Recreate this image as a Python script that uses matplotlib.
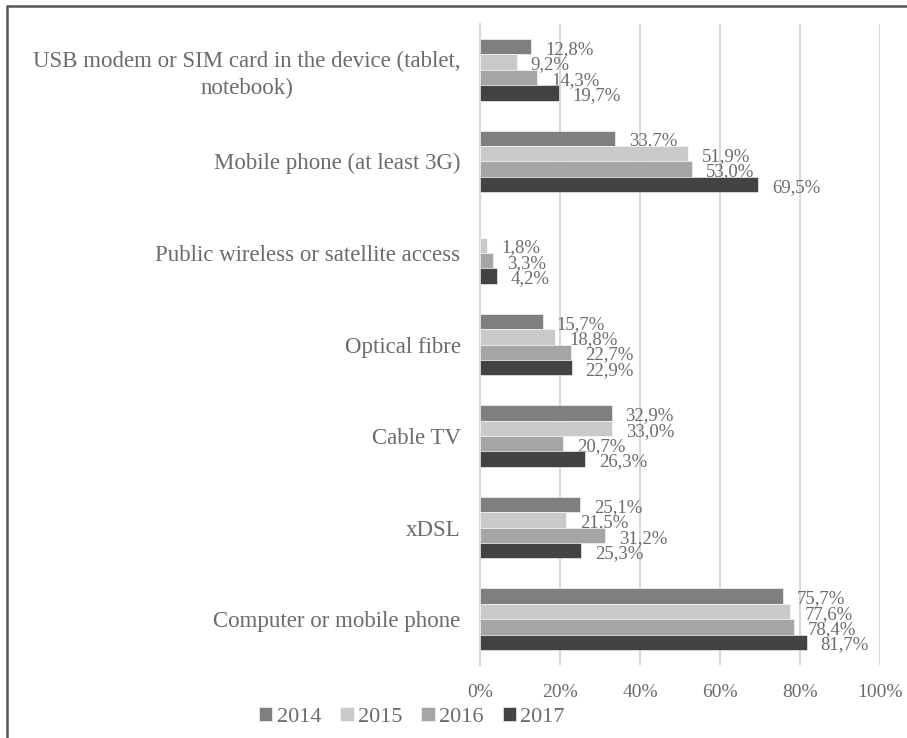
import matplotlib.pyplot as plt
import numpy as np
from matplotlib.patches import Rectangle

# Share of households by access type (%), one list per year
categories = [
    "USB modem or SIM card in the device (tablet,\nnotebook)",
    "Mobile phone (at least 3G)",
    "Public wireless or satellite access",
    "Optical fibre",
    "Cable TV",
    "xDSL",
    "Computer or mobile phone",
]
years = ["2014", "2015", "2016", "2017"]
v2014 = [12.8, 33.7, np.nan, 15.7, 32.9, 25.1, 75.7]
v2015 = [9.2, 51.9, 1.8, 18.8, 33.0, 21.5, 77.6]
v2016 = [14.3, 53.0, 3.3, 22.7, 20.7, 31.2, 78.4]
v2017 = [19.7, 69.5, 4.2, 22.9, 26.3, 25.3, 81.7]
series = [v2014, v2015, v2016, v2017]
colors = ["#7f7f7f", "#c9c9c9", "#a5a5a5", "#434343"]

TEXT = "#6b6b6b"
GRID = "#d9d9d9"

plt.rcParams["font.family"] = ["Liberation Serif", "DejaVu Serif"]

fig = plt.figure(figsize=(9.07, 7.38), dpi=100)
ax = fig.add_axes([480 / 907, 1 - 665 / 738, 400 / 907, (665 - 24) / 738])

y = np.arange(len(categories))
h = 0.168
for k, (vals, col, yr) in enumerate(zip(series, colors, years)):
    pos = y + (k - 1.5) * h
    vals = np.array(vals)
    ax.barh(pos, vals, height=h, color=col, label=yr,
            edgecolor="white", linewidth=0.4, zorder=3)
    for p, v in zip(pos, vals):
        if np.isnan(v):
            continue
        ax.annotate(f"{v:.1f}%".replace(".", ","), (v, p),
                    xytext=(10, -2), textcoords="offset points",
                    ha="left", va="center", fontsize=13.5, color=TEXT)

ax.set_xlim(0, 100)
ax.set_ylim(len(categories) - 0.5, -0.5)
ax.set_xticks(np.arange(0, 101, 20))
ax.set_xticklabels([f"{t}%" for t in range(0, 101, 20)])
ax.xaxis.grid(True, color=GRID, linewidth=1.5, zorder=0)
ax.set_yticks(y)
ax.set_yticklabels(categories, fontsize=16.5, color=TEXT,
                   multialignment="center", linespacing=1.35)
ax.tick_params(axis="x", labelsize=14, colors=TEXT, length=0, pad=14)
ax.tick_params(axis="y", length=0, pad=14)
for s in ["top", "right", "bottom"]:
    ax.spines[s].set_visible(False)
ax.spines["left"].set_color(GRID)
ax.spines["left"].set_linewidth(1.5)

fig.legend(loc="center", bbox_to_anchor=(412 / 907, 1 - 717 / 738), ncol=4,
           frameon=False, fontsize=16, handlelength=0.6, handleheight=0.6,
           handletextpad=0.2, columnspacing=0.85, labelcolor=TEXT)

fig.patches.append(Rectangle((7 / 907, -0.1), 1.2, 1 - 6 / 738 + 0.1,
                             transform=fig.transFigure, fill=False,
                             edgecolor="#555555", linewidth=1.8))

fig.savefig("out.png", dpi=100)
